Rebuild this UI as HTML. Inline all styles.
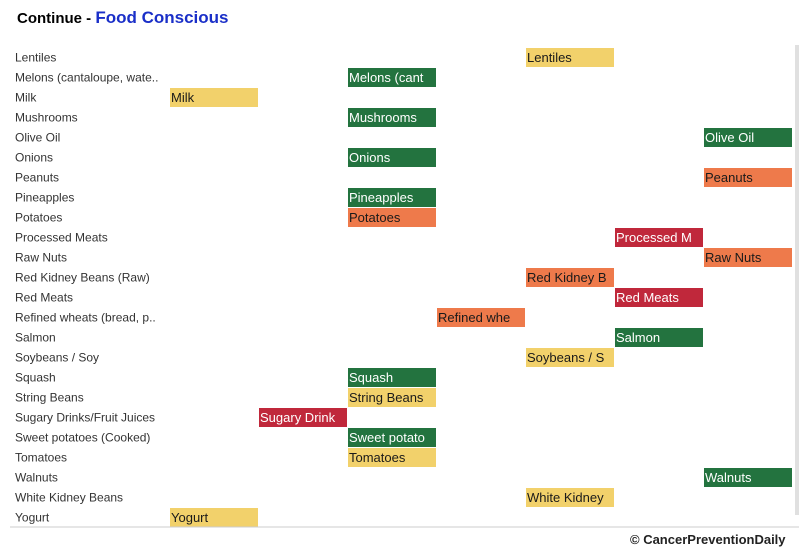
<!DOCTYPE html>
<html><head><meta charset="utf-8"><style>
body{margin:0;width:799px;height:559px;background:#fff;overflow:hidden;font-family:"Liberation Sans",sans-serif;position:relative}
#title{position:absolute;left:17px;top:8px;font-size:15px;font-weight:bold;color:#000}
#title span{color:#1a2fc8;font-size:17px}
#credit{position:absolute;left:630px;top:532px;font-size:13px;font-weight:bold;color:#222}
</style></head><body>
<div id="title">Continue - <span>Food Conscious</span></div>
<svg id="chart" width="799" height="559" style="position:absolute;left:0;top:0"></svg>
<div id="credit">© CancerPreventionDaily</div>
<script>
const foods=["Lentiles","Melons (cantaloupe, wate..","Milk","Mushrooms","Olive Oil","Onions","Peanuts","Pineapples","Potatoes","Processed Meats","Raw Nuts","Red Kidney Beans (Raw)","Red Meats","Refined wheats (bread, p..","Salmon","Soybeans / Soy","Squash","String Beans","Sugary Drinks/Fruit Juices","Sweet potatoes (Cooked)","Tomatoes","Walnuts","White Kidney Beans","Yogurt"];
const columns=[4,2,0,2,6,2,6,2,2,5,6,4,5,3,5,4,2,2,1,2,2,6,4,0];
const cellLabels=["Lentiles","Melons (cant","Milk","Mushrooms","Olive Oil","Onions","Peanuts","Pineapples","Potatoes","Processed M","Raw Nuts","Red Kidney B","Red Meats","Refined whe","Salmon","Soybeans / S","Squash","String Beans","Sugary Drink","Sweet potato","Tomatoes","Walnuts","White Kidney","Yogurt"];
const categories=["y","g","y","g","g","g","o","g","o","r","o","o","r","o","g","y","g","y","r","g","y","g","y","y"];
const colorMap={y:"#f2d16b",g:"#23733f",o:"#ee7a4b",r:"#c0283b"};
const textMap={y:"#1a1a1a",g:"#ffffff",o:"#1a1a1a",r:"#ffffff"};
const svg=document.getElementById('chart');const NS="http://www.w3.org/2000/svg";
const yOf=i=>57+i*20;const xOf=c=>170+c*89;
function mk(t,a){const e=document.createElementNS(NS,t);for(const k in a)e.setAttribute(k,a[k]);svg.appendChild(e);return e;}
foods.forEach((f,i)=>{
 const t=mk('text',{x:15,y:yOf(i)+4.5,'font-size':12,fill:'#333','font-family':'Liberation Sans, sans-serif'});t.textContent=f;
 
 
 const r=mk('rect',{x:xOf(columns[i]),y:yOf(i)-9,width:88,height:19,fill:colorMap[categories[i]]});
 
 
 const ct=mk('text',{x:xOf(columns[i])+1,y:yOf(i)+5,'font-size':13,fill:textMap[categories[i]],'font-family':'Liberation Sans, sans-serif'});ct.textContent=cellLabels[i];
 
 
});
const ln=mk('line',{x1:10,x2:799,y1:527,y2:527,stroke:'#ccc','stroke-width':1});


const sb=mk('rect',{x:795,y:45,width:4,height:470,fill:'#e0e0e0'});


</script>
</body></html>
